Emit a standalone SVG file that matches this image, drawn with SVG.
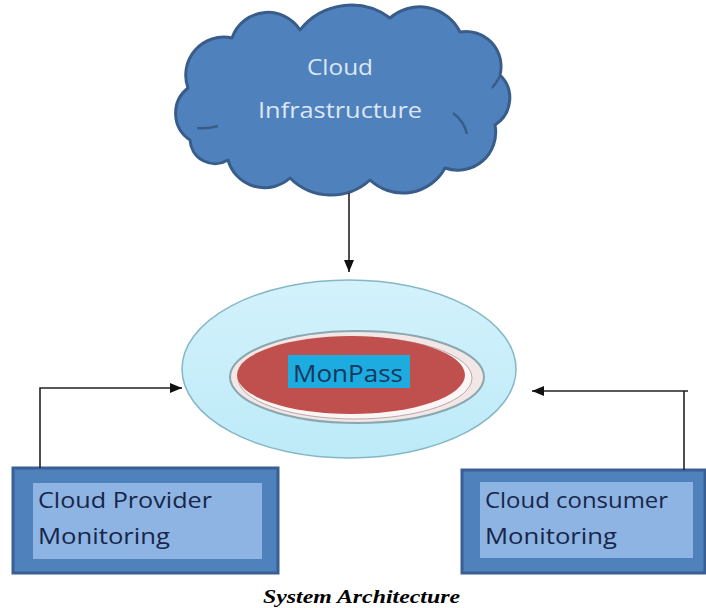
<svg xmlns="http://www.w3.org/2000/svg" width="706" height="608" viewBox="0 0 706 608">
<style>
.lbl{font-family:"Open Sans","Noto Sans",sans-serif;}
.cloudtxt{fill:#dce7f3;font-size:22px;}
.boxtxt{fill:#17264a;font-size:21px;}
.conn{fill:none;stroke:#222;stroke-width:1.6;}
.outerbox{fill:#4f81bd;stroke:#3a5f94;stroke-width:3;}
.innerbox{fill:#8eb4e3;}
.cap{font-family:"Liberation Serif","Times New Roman",serif;font-weight:bold;font-style:italic;font-size:19px;fill:#000;}
</style>
<defs>
<marker id="arr" viewBox="0 0 12 10" refX="12" refY="5" markerWidth="12" markerHeight="10" markerUnits="userSpaceOnUse" orient="auto">
<path d="M0,0 L12,5 L0,10 Z" fill="#111"/>
</marker>
<linearGradient id="ellg" x1="0" y1="0" x2="0" y2="1">
<stop offset="0" stop-color="#d3f2fc"/>
<stop offset="1" stop-color="#bdeaf8"/>
</linearGradient>
</defs>
<rect width="706" height="608" fill="#fff"/>

<g id="cloud">
<path d="M190,140 A32,32 0 0 1 188,88 A38,38 0 0 1 232,38 A38,38 0 0 1 300,30 A65,65 0 0 1 390,18 A45,45 0 0 1 460,32 A35,35 0 0 1 500,75 A32,32 0 0 1 495,125 A38,38 0 0 1 445,168 A48,48 0 0 1 370,180 A58,58 0 0 1 290,178 A38,38 0 0 1 228,160 A25,25 0 0 1 190,140 Z" fill="#4f81bd" stroke="#385d8a" stroke-width="3" stroke-linejoin="round"/>
<path d="M197,128 Q208,129 218,126" fill="none" stroke="#385d8a" stroke-width="2.5"/>
<path d="M453,113 Q464,121 467,134" fill="none" stroke="#385d8a" stroke-width="2.5"/>
<path d="M492,88 Q497,82 500,76" fill="none" stroke="#385d8a" stroke-width="2.5"/>
<text class="lbl cloudtxt" x="307" y="75" textLength="66" lengthAdjust="spacingAndGlyphs">Cloud</text>
<text class="lbl cloudtxt" x="258" y="118" textLength="164" lengthAdjust="spacingAndGlyphs">Infrastructure</text>
</g>

<g id="monpass">
<ellipse cx="349" cy="369" rx="167" ry="89" fill="url(#ellg)" stroke="#86b7c4" stroke-width="1.5"/>
<ellipse cx="357" cy="377" rx="127" ry="46" fill="#f3e6e6" stroke="#8aa7ae" stroke-width="2"/>
<ellipse cx="355" cy="378" rx="117" ry="41" fill="#fbf5f5" stroke="#b9a9a9" stroke-width="1"/>
<ellipse cx="351" cy="375" rx="114" ry="39" fill="#c0504d"/>
<rect x="288" y="355" width="122" height="33" fill="#1cace0"/>
<text class="lbl" x="293" y="382" font-size="23" fill="#17375e" textLength="110" lengthAdjust="spacingAndGlyphs">MonPass</text>
</g>

<g id="provider">
<rect class="outerbox" x="13" y="468" width="265" height="105"/>
<rect class="innerbox" x="33" y="483" width="229" height="76"/>
<text class="lbl boxtxt" x="38" y="508" textLength="174" lengthAdjust="spacingAndGlyphs">Cloud Provider</text>
<text class="lbl boxtxt" x="38" y="544" textLength="132" lengthAdjust="spacingAndGlyphs">Monitoring</text>
</g>

<g id="consumer">
<rect class="outerbox" x="462" y="470" width="243" height="103"/>
<rect class="innerbox" x="480" y="482" width="213" height="76"/>
<text class="lbl boxtxt" x="485" y="508" textLength="183" lengthAdjust="spacingAndGlyphs">Cloud consumer</text>
<text class="lbl boxtxt" x="485" y="544" textLength="132" lengthAdjust="spacingAndGlyphs">Monitoring</text>
</g>

<g id="connectors">
<path class="conn" d="M349,193 V272" marker-end="url(#arr)"/>
<path class="conn" d="M40,468 V388 H182" marker-end="url(#arr)"/>
<path class="conn" d="M684,470 V391"/>
<path class="conn" d="M688,391 H532" marker-end="url(#arr)"/>
</g>

<text class="cap" x="263" y="603" textLength="197" lengthAdjust="spacingAndGlyphs">System Architecture</text>
</svg>
